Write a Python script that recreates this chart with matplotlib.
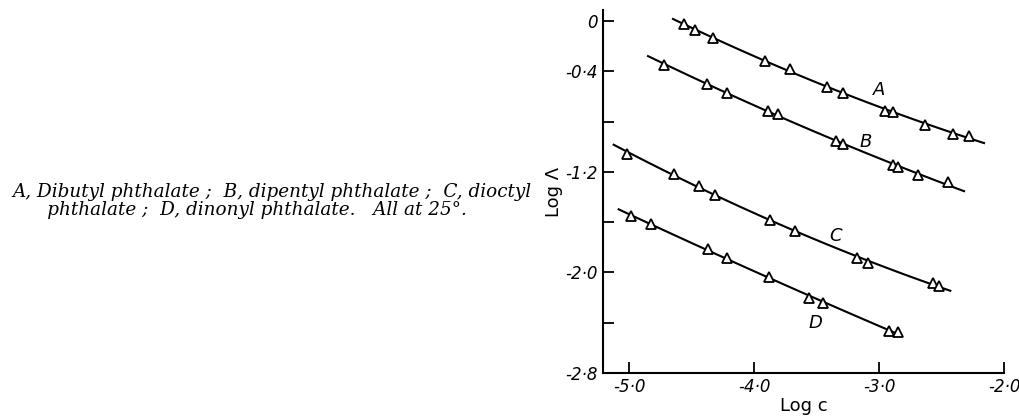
import numpy as np
import matplotlib.pyplot as plt
from matplotlib.ticker import FixedLocator, FixedFormatter

# log c, log Lambda for each ester
a_x = [-4.565, -4.475, -4.33, -3.91, -3.71, -3.416, -3.29, -2.95, -2.89, -2.63, -2.405, -2.28]
a_y = [-0.026, -0.071, -0.137, -0.317, -0.383, -0.523, -0.570, -0.718, -0.726, -0.826, -0.900, -0.913]
b_x = [-4.72, -4.38, -4.22, -3.89, -3.81, -3.344, -3.29, -2.89, -2.85, -2.69, -2.45]
b_y = [-0.348, -0.501, -0.573, -0.713, -0.739, -0.958, -0.976, -1.143, -1.162, -1.227, -1.285]
c_x = [-5.02, -4.64, -4.44, -4.31, -3.87, -3.67, -3.18, -3.09, -2.57, -2.52]
c_y = [-1.056, -1.219, -1.312, -1.383, -1.581, -1.673, -1.884, -1.926, -2.085, -2.111]
d_x = [-4.99, -4.83, -4.37, -4.22, -3.88, -3.56, -3.45, -2.92, -2.85]
d_y = [-1.549, -1.618, -1.816, -1.882, -2.035, -2.201, -2.246, -2.465, -2.476]

names = ['A', 'B', 'C', 'D']
# x range covered by each drawn curve
curve_start = [-4.65, -4.85, -5.125, -5.085]
curve_end = [-2.16, -2.32, -2.43, -2.82]
label_pos = [(-3.0, -0.55), (-3.11, -0.96), (-3.35, -1.71), (-3.51, -2.40)]

xticks = [-5.0, -4.0, -3.0, -2.0]
xtick_labels = ['-5·0', '-4·0', '-3·0', '-2·0']
yticks = [0, -0.4, -0.8, -1.2, -1.6, -2.0, -2.4, -2.8]
ytick_labels = ['0', '-0·4', '', '-1·2', '', '-2·0', '', '-2·8']

caption = ('A, Dibutyl phthalate ;  B, dipentyl phthalate ;  C, dioctyl\n'
           '      phthalate ;  D, dinonyl phthalate.   All at 25°.')

fig = plt.figure(figsize=(10.19, 4.16), dpi=100)
ax = fig.add_axes([0.5918, 0.1034, 0.3935, 0.8726])

series = [(a_x, a_y), (b_x, b_y), (c_x, c_y), (d_x, d_y)]
for i, (xs, ys) in enumerate(series):
    # smooth curve through the points
    coef = np.polyfit(xs, ys, 2)
    xx = np.linspace(curve_start[i], curve_end[i], 100)
    ax.plot(xx, np.polyval(coef, xx), color='black', lw=1.5)
    ax.plot(xs, ys, linestyle='none', marker='^', markersize=6.5,
            markerfacecolor='white', markeredgecolor='black', markeredgewidth=1.3)
    ax.text(label_pos[i][0], label_pos[i][1], names[i], fontsize=13,
            style='italic', family='DejaVu Sans', ha='center', va='center')

ax.set_xlim(-5.21, -2.0)
ax.set_ylim(-2.8, 0.087)
for s in ['top', 'right']:
    ax.spines[s].set_visible(False)
ax.spines['left'].set_linewidth(1.5)
ax.spines['bottom'].set_linewidth(1.5)

ax.xaxis.set_major_locator(FixedLocator(xticks))
ax.xaxis.set_major_formatter(FixedFormatter(xtick_labels))
ax.yaxis.set_major_locator(FixedLocator(yticks))
ax.yaxis.set_major_formatter(FixedFormatter(ytick_labels))
ax.tick_params(direction='in', length=8, width=1.3, labelsize=12)
for lab in ax.get_xticklabels() + ax.get_yticklabels():
    lab.set_style('italic')

ax.set_xlabel('Log c', fontsize=13, labelpad=1)
ax.set_ylabel('Log Λ', fontsize=13, labelpad=2)
ax.yaxis.set_label_coords(-0.1, 0.5)

fig.text(12 / 1019, 1 - 201 / 416, caption, fontsize=13.2, family='DejaVu Serif',
         style='italic', va='center', ha='left', linespacing=0.95)

fig.savefig('out.png', dpi=100)
